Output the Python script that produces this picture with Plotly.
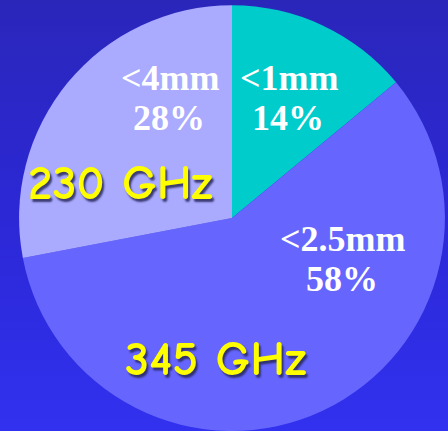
import plotly.graph_objects as go

# Share of observing time by receiver band
bands = ["<1mm", "<2.5mm", "<4mm"]
shares = [14, 58, 28]
slice_colors = ["#00CCCC", "#6666FF", "#AAAAFF"]

# Frequency captions
freq_labels = ["230 GHz", "345 GHz"]

W, H = 448, 431

fig = go.Figure()

# Background: vertical blue gradient filling the whole canvas
fig.add_trace(go.Scatter(
    x=[0, 1, 1, 0, 0], y=[0, 0, 1, 1, 0],
    mode="lines", line=dict(width=0),
    fill="toself",
    fillgradient=dict(type="vertical", start=0, stop=1,
                      colorscale=[[0, "#3131EF"], [0.5, "#2C28D6"], [1, "#2A26BA"]]),
    hoverinfo="skip", showlegend=False,
))

fig.add_trace(go.Pie(
    labels=bands, values=shares,
    marker=dict(colors=slice_colors, line=dict(width=0)),
    sort=False, direction="clockwise", rotation=0,
    textinfo="none", hoverinfo="skip", showlegend=False,
    domain=dict(x=[19 / W, 445 / W], y=[0.0, 0.988]),
))


def px(x, y):
    return x / W, (H - y) / H


label_font = dict(family="Liberation Serif, Times New Roman, serif",
                  size=36, color="white", weight="bold")
# Band name and share positions (pixel centres) for each slice
label_pos = {
    "<1mm": [(289, 78), (288, 118)],
    "<2.5mm": [(343, 239), (342, 279)],
    "<4mm": [(170, 78), (169, 118)],
}
annotations = []
for band, share in zip(bands, shares):
    (x1, y1), (x2, y2) = label_pos[band]
    for (x, y), txt in (((x1, y1), band), ((x2, y2), f"{share}%")):
        ax, ay = px(x, y)
        annotations.append(dict(
            x=ax, y=ay, xref="paper", yref="paper",
            text=txt.replace("<", "&lt;"), showarrow=False,
            xanchor="center", yanchor="middle", font=label_font,
        ))

freq_font = dict(family="Comic Sans MS, Comic Neue, Lato, sans-serif",
                 size=49, color="#FFFF00", weight=600,
                 shadow="2px 3px 2px rgba(40,40,90,0.85)")
for txt, (x, y) in zip(freq_labels, [(120, 183), (215, 359)]):
    ax, ay = px(x, y)
    annotations.append(dict(
        x=ax, y=ay, xref="paper", yref="paper", text=txt, showarrow=False,
        xanchor="center", yanchor="middle", font=freq_font,
    ))

fig.update_layout(
    width=W, height=H,
    margin=dict(l=0, r=0, t=0, b=0),
    paper_bgcolor="#2C28D6", plot_bgcolor="rgba(0,0,0,0)",
    xaxis=dict(range=[0, 1], visible=False, fixedrange=True),
    yaxis=dict(range=[0, 1], visible=False, fixedrange=True),
    annotations=annotations,
)

fig.write_html("out.html", config=dict(displayModeBar=False))
